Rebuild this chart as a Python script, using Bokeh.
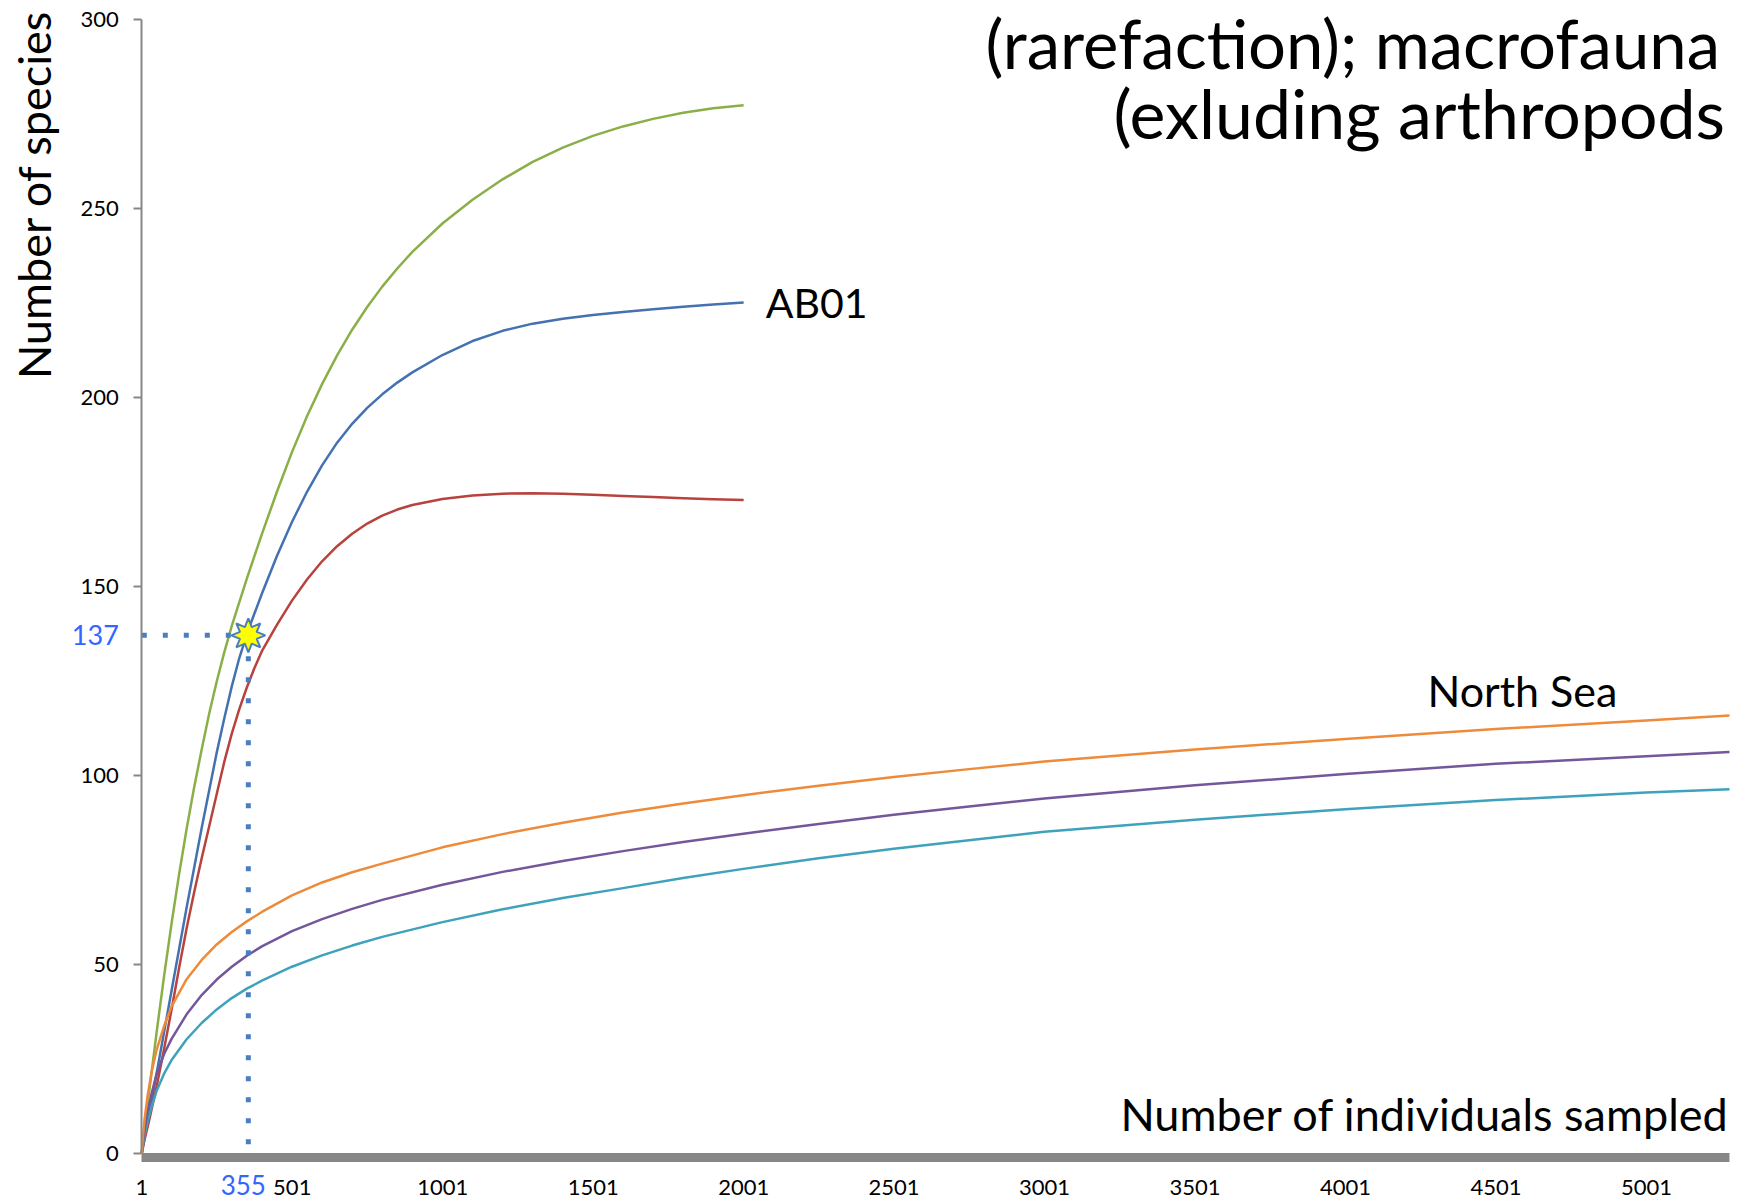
import math

from bokeh.plotting import figure
from bokeh.models import Range1d, FixedTicker, Label
from bokeh.embed import file_html
from bokeh.resources import INLINE

# Rarefaction curves: expected number of species vs. number of individuals sampled
green_x = [1, 10, 25, 50, 75, 100, 125, 150, 175, 200, 225, 250, 275, 300, 350, 400,
           450, 500, 550, 600, 650, 700, 750, 800, 850, 900, 1000, 1100, 1200, 1300,
           1400, 1500, 1600, 1700, 1800, 1900, 2001]
green_y = [0, 6.1, 16, 31.8, 46.8, 60.8, 73.8, 85.8, 96.8, 106.8, 116.3, 124.8, 132.5,
           139.5, 152, 163.8, 175, 185.5, 195, 203.5, 211.1, 217.9, 223.9, 229.3, 234.1,
           238.5, 246, 252.3, 257.7, 262.3, 266.1, 269.2, 271.7, 273.7, 275.3, 276.5,
           277.3]

ab01_x = [1, 10, 25, 50, 75, 100, 125, 150, 175, 200, 225, 250, 275, 300, 325, 355,
          400, 450, 500, 550, 600, 650, 700, 750, 800, 850, 900, 1000, 1100, 1200, 1300,
          1400, 1500, 1600, 1700, 1800, 1900, 2001]
ab01_y = [0, 4, 10, 21, 32, 43, 54, 65, 75.5, 86, 96, 106, 115, 123.5, 131, 138.5,
          148, 158, 167, 175, 182, 188, 193, 197.2, 200.8, 203.9, 206.6, 211.2, 214.9,
          217.6, 219.5, 220.8, 221.8, 222.6, 223.3, 224.0, 224.6, 225.1]

red_x = [1, 10, 25, 50, 75, 100, 125, 150, 175, 200, 225, 250, 275, 300, 325, 350, 375,
         400, 450, 500, 550, 600, 650, 700, 750, 800, 850, 900, 1000, 1100, 1200, 1300,
         1400, 1500, 1600, 1700, 1800, 1900, 2001]
red_y = [0, 3.5, 8.5, 17.5, 27.5, 38, 49, 59.5, 69, 78, 86.5, 95, 103.5, 111, 117.5,
         123.2, 128.3, 132.8, 139.8, 146.2, 151.8, 156.6, 160.6, 163.9, 166.6, 168.7,
         170.3, 171.5, 173.1, 174.0, 174.5, 174.6, 174.5, 174.2, 173.9, 173.6, 173.3,
         173.0, 172.8]

north_x = [1, 5, 10, 20, 35, 50, 75, 100, 150, 200, 250, 300, 350, 400, 500, 600, 700,
           800, 1000, 1200, 1400, 1600, 1800, 2000, 2250, 2500, 2750, 3000, 3500, 4000,
           4500, 5000, 5277]
orange_y = [0, 4.5, 8.8, 15, 22, 27.2, 33.6, 38.8, 46, 51.1, 55.2, 58.5, 61.3, 63.8,
            68.2, 71.6, 74.3, 76.6, 80.9, 84.4, 87.4, 90.1, 92.5, 94.7, 97.2, 99.5,
            101.6, 103.6, 106.8, 109.6, 112.2, 114.5, 115.8]
purple_y = [0, 3.3, 6.2, 10.8, 16.2, 20.8, 26.2, 30.2, 36.7, 41.8, 45.9, 49.3, 52.2,
            54.7, 58.7, 61.9, 64.6, 67.0, 71.0, 74.4, 77.3, 79.9, 82.3, 84.5, 87.1, 89.5,
            91.7, 93.8, 97.3, 100.3, 103.0, 105.0, 106.1]
teal_y = [0, 2.4, 4.6, 8.2, 12.6, 16.4, 21, 24.6, 30.1, 34.4, 38, 41, 43.5, 45.6, 49.3,
          52.3, 54.9, 57.2, 61.1, 64.5, 67.5, 70.1, 72.8, 75.2, 78.0, 80.5, 82.8, 85.0,
          88.2, 91.0, 93.4, 95.4, 96.3]

x_ticks = [1, 501, 1001, 1501, 2001, 2501, 3001, 3501, 4001, 4501, 5001]
y_ticks = [0, 50, 100, 150, 200, 250, 300]

# highlighted sample size and the AB01 species count read at it
marked_n = 355
marked_s = 137

FONT = "Lato"
AXIS_GREY = "#878787"
MARK_BLUE = "#4A7EC0"
LABEL_BLUE = "#3366FF"

# page geometry (pixels): the plotting frame fills the whole page and the axes
# are pinned at fixed data locations inside it
W, H = 1745, 1202
left_px, right_px = 141.3, 1729.0      # x = 1 and x = last sample
top_px, zero_px = 19.0, 1152.5         # y = 300 and y = 0

x_end = north_x[-1]
y_top = y_ticks[-1]
kx = (right_px - left_px) / (x_end - 1)
ky = (zero_px - top_px) / y_top
x_lo = 1 - left_px / kx
x_hi = x_end + (W - right_px) / kx
y_lo = -(H - zero_px) / ky
y_hi = y_top + top_px / ky

p = figure(width=W, height=H, output_backend="svg", toolbar_location=None,
           x_range=Range1d(x_lo, x_hi), y_range=Range1d(y_lo, y_hi),
           min_border_left=0, min_border_right=0, min_border_top=0,
           min_border_bottom=0)
p.outline_line_color = None
p.grid.visible = False
p.background_fill_color = "white"
p.border_fill_color = "white"

# y axis
p.yaxis.fixed_location = 1
p.yaxis.bounds = (0, y_top)
p.yaxis.ticker = FixedTicker(ticks=y_ticks)
p.yaxis.axis_line_color = AXIS_GREY
p.yaxis.axis_line_width = 2
p.yaxis.major_tick_line_color = AXIS_GREY
p.yaxis.major_tick_line_width = 2
p.yaxis.major_tick_out = 8
p.yaxis.major_tick_in = 0
p.yaxis.minor_tick_line_color = None
p.yaxis.major_label_text_font = FONT
p.yaxis.major_label_text_font_size = "22px"
p.yaxis.major_label_text_color = "black"
p.yaxis.major_label_standoff = 15

# x axis: heavy grey base line just under zero
p.xaxis.fixed_location = -4.5 / ky
p.xaxis.bounds = (1, x_end)
p.xaxis.ticker = FixedTicker(ticks=x_ticks)
p.xaxis.major_label_overrides = {t: str(t) for t in x_ticks}
p.xaxis.axis_line_color = AXIS_GREY
p.xaxis.axis_line_width = 9
p.xaxis.major_tick_line_color = None
p.xaxis.major_tick_out = 0
p.xaxis.major_tick_in = 0
p.xaxis.minor_tick_line_color = None
p.xaxis.major_label_text_font = FONT
p.xaxis.major_label_text_font_size = "22px"
p.xaxis.major_label_text_color = "black"
p.xaxis.major_label_standoff = 22

# curves
lw = 2.5
p.line(green_x, green_y, line_color="#8BAF47", line_width=lw, line_join="round")
p.line(ab01_x, ab01_y, line_color="#4472B0", line_width=lw, line_join="round")
p.line(red_x, red_y, line_color="#B8423E", line_width=lw, line_join="round")
p.line(north_x, teal_y, line_color="#3FA2BC", line_width=lw, line_join="round")
p.line(north_x, purple_y, line_color="#74579A", line_width=lw, line_join="round")
p.line(north_x, orange_y, line_color="#EE8B3A", line_width=lw, line_join="round")

# dotted read-off lines for the marked sample
p.line([1, marked_n], [marked_s, marked_s], line_color=MARK_BLUE, line_width=5,
       line_dash="5 16", line_cap="butt")
p.line([marked_n, marked_n], [marked_s, 0], line_color=MARK_BLUE, line_width=5,
       line_dash="5 16", line_cap="butt")

# sun-shaped marker at the read-off point (shape sized in pixels)
sun_x, sun_y = [], []
for k in range(16):
    r = 17 if k % 2 == 0 else 9
    a = math.pi / 2 + k * math.pi / 8
    sun_x.append(marked_n + r * math.cos(a) / kx)
    sun_y.append(marked_s + r * math.sin(a) / ky)
p.patch(sun_x, sun_y, fill_color="#FFFF00", line_color=MARK_BLUE, line_width=2)
p.scatter([marked_n], [marked_s], marker="circle", size=15,
          fill_color="#FFFF00", line_color=None)

# texts
def add_label(text, x, y, size, align="left", baseline="middle", color="black",
              x_offset=0, angle=0):
    p.add_layout(Label(x=x, y=y, text=text, text_font=FONT, text_font_size=size,
                       text_color=color, text_align=align, text_baseline=baseline,
                       x_offset=x_offset, angle=angle))

def py(px):
    # vertical page pixel -> y value
    return (zero_px - px) / ky

add_label("AB01", ab01_x[-1], ab01_y[-1], "41px", x_offset=22)
add_label("North Sea", 1 + (1427 - left_px) / kx, py(690), "43px")
add_label("Number of individuals sampled", x_end, py(1113), "45px", align="right")
add_label("Number of species", 1, py(194), "45px", align="center", x_offset=-108,
          angle=math.pi / 2)
add_label(str(marked_s), 1, marked_s, "27px", align="right", color=LABEL_BLUE,
          x_offset=-23)
add_label(str(marked_n), marked_n, py(1184), "26px", align="center", color=LABEL_BLUE,
          x_offset=-5)
add_label("(rarefaction); macrofauna", 1 + (985 - left_px) / kx, py(42), "67px")
add_label("(exluding arthropods", 1 + (1113 - left_px) / kx, py(112), "68px")

open("out.html", "w").write(file_html(p, INLINE))
